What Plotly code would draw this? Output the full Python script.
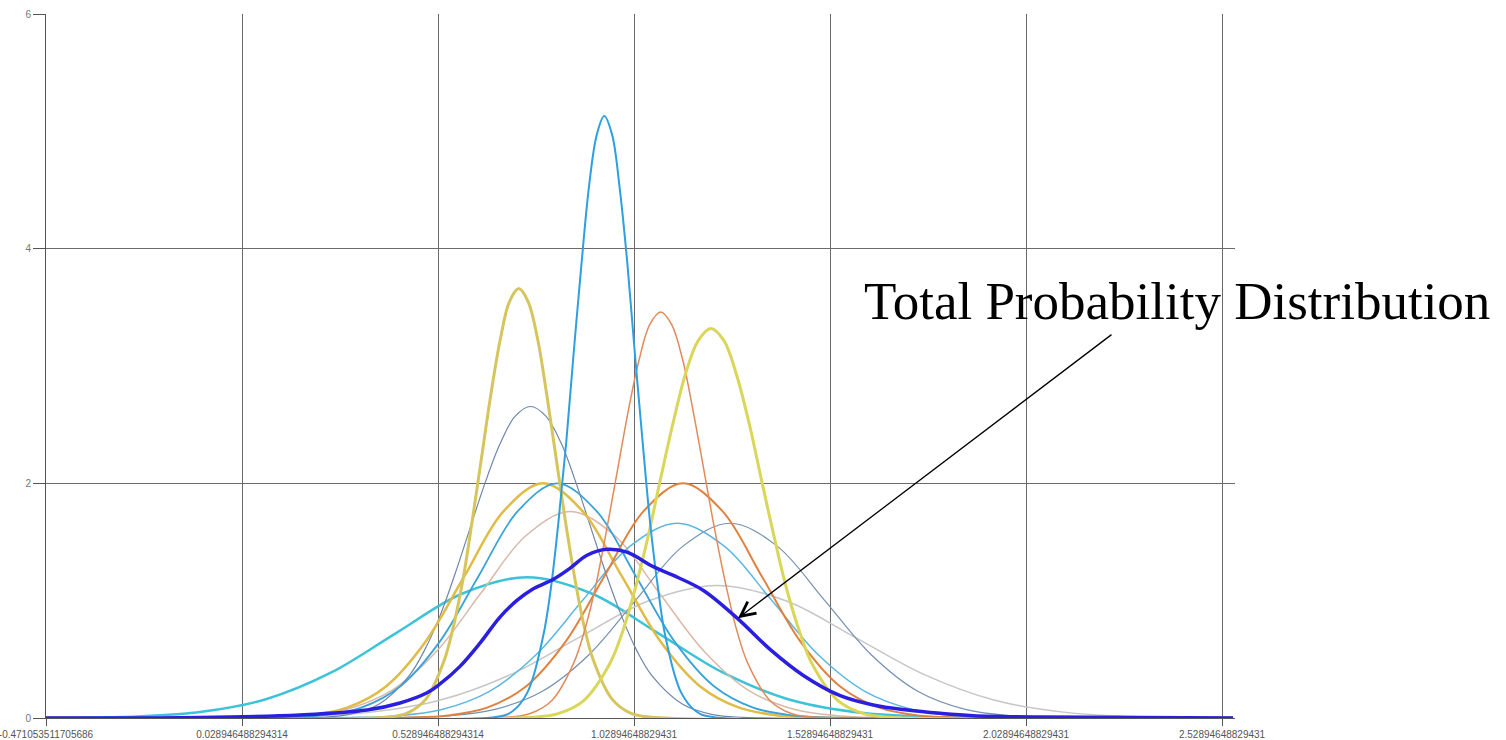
import plotly.graph_objects as go

# ---- data ----
X_START = -0.471053511705686
X_END = 2.557

tick_vals = [-0.471053511705686, 0.028946488294314, 0.528946488294314,
             1.02894648829431, 1.52894648829431, 2.02894648829431, 2.52894648829431]
tick_text = ["-0.471053511705686", "0.028946488294314", "0.528946488294314",
             "1.02894648829431", "1.52894648829431", "2.02894648829431", "2.52894648829431"]

# component curves (x, y)
a_x = [0.403, 0.450, 0.498, 0.545, 0.569, 0.593, 0.616, 0.640, 0.664, 0.688, 0.711, 0.735,
       0.759, 0.783, 0.806, 0.830, 0.854, 0.878, 0.901, 0.925, 0.973, 1.020, 1.068]
a_y = [0.008, 0.041, 0.161, 0.495, 0.792, 1.188, 1.676, 2.220, 2.763, 3.230, 3.547, 3.660,
       3.547, 3.230, 2.763, 2.220, 1.676, 1.188, 0.792, 0.495, 0.161, 0.041, 0.008]

b_x = [0.680, 0.719, 0.758, 0.797, 0.817, 0.836, 0.856, 0.875, 0.895, 0.914, 0.934, 0.953,
       0.973, 0.992, 1.012, 1.031, 1.051, 1.070, 1.090, 1.109, 1.148, 1.187, 1.226]
b_y = [0.011, 0.057, 0.225, 0.694, 1.110, 1.666, 2.349, 3.111, 3.872, 4.527, 4.972, 5.130,
       4.972, 4.527, 3.872, 3.111, 2.349, 1.666, 1.110, 0.694, 0.225, 0.057, 0.011]

c_x = [0.709, 0.764, 0.820, 0.875, 0.903, 0.931, 0.958, 0.986, 1.014, 1.042, 1.069, 1.097,
       1.125, 1.153, 1.180, 1.208, 1.236, 1.264, 1.291, 1.319, 1.375, 1.430, 1.486]
c_y = [0.008, 0.038, 0.152, 0.468, 0.748, 1.123, 1.584, 2.098, 2.612, 3.053, 3.353, 3.460,
       3.353, 3.053, 2.612, 2.098, 1.584, 1.123, 0.748, 0.468, 0.152, 0.038, 0.008]

d_x = [0.770, 0.835, 0.900, 0.965, 0.998, 1.030, 1.063, 1.095, 1.128, 1.160, 1.193, 1.225,
       1.258, 1.290, 1.323, 1.355, 1.388, 1.420, 1.453, 1.485, 1.550, 1.615, 1.680]
d_y = [0.007, 0.037, 0.146, 0.449, 0.718, 1.078, 1.520, 2.014, 2.506, 2.930, 3.218, 3.320,
       3.218, 2.930, 2.506, 2.014, 1.520, 1.078, 0.718, 0.449, 0.146, 0.037, 0.007]

e_x = [0.223, 0.300, 0.378, 0.455, 0.494, 0.533, 0.571, 0.610, 0.649, 0.688, 0.726, 0.765,
       0.804, 0.843, 0.881, 0.920, 0.959, 0.998, 1.036, 1.075, 1.153, 1.230, 1.308]
e_y = [0.006, 0.029, 0.117, 0.359, 0.574, 0.862, 1.215, 1.610, 2.004, 2.343, 2.573, 2.655,
       2.573, 2.343, 2.004, 1.610, 1.215, 0.862, 0.574, 0.359, 0.117, 0.029, 0.006]

f_x = [0.097, 0.197, 0.297, 0.397, 0.497, 0.597, 0.697, 0.797, 0.897, 0.997, 1.097, 1.197, 1.297, 1.397, 1.497]
f_y = [0.004, 0.022, 0.088, 0.271, 0.649, 1.213, 1.765, 2.000, 1.765, 1.213, 0.649, 0.271, 0.088, 0.022, 0.004]

g_x = [0.133, 0.233, 0.333, 0.433, 0.533, 0.633, 0.733, 0.833, 0.933, 1.033, 1.133, 1.233, 1.333, 1.433, 1.533]
g_y = [0.004, 0.022, 0.088, 0.271, 0.649, 1.213, 1.765, 2.000, 1.765, 1.213, 0.649, 0.271, 0.088, 0.022, 0.004]

h_x = [0.454, 0.554, 0.654, 0.754, 0.854, 0.954, 1.054, 1.154, 1.254, 1.354, 1.454, 1.554, 1.654, 1.754, 1.854]
h_y = [0.004, 0.022, 0.088, 0.271, 0.649, 1.213, 1.765, 2.000, 1.765, 1.213, 0.649, 0.271, 0.088, 0.022, 0.004]

i_x = [0.072, 0.185, 0.299, 0.412, 0.526, 0.639, 0.753, 0.866, 0.980, 1.093, 1.207, 1.320, 1.434, 1.547, 1.661]
i_y = [0.004, 0.020, 0.077, 0.238, 0.571, 1.067, 1.553, 1.760, 1.553, 1.067, 0.571, 0.238, 0.077, 0.020, 0.004]

j_x = [-0.406, -0.240, -0.074, 0.092, 0.258, 0.424, 0.590, 0.756, 0.922, 1.088, 1.254, 1.420, 1.586, 1.752, 1.918]
j_y = [0.003, 0.013, 0.053, 0.162, 0.390, 0.728, 1.059, 1.200, 1.059, 0.728, 0.390, 0.162, 0.053, 0.013, 0.003]

k_x = [0.299, 0.419, 0.539, 0.659, 0.779, 0.899, 1.019, 1.139, 1.259, 1.379, 1.499, 1.619, 1.739, 1.859, 1.979]
k_y = [0.004, 0.018, 0.073, 0.225, 0.539, 1.007, 1.465, 1.660, 1.465, 1.007, 0.539, 0.225, 0.073, 0.018, 0.004]

l_x = [0.434, 0.554, 0.674, 0.794, 0.914, 1.034, 1.154, 1.274, 1.394, 1.514, 1.634, 1.754, 1.874, 1.994, 2.114]
l_y = [0.004, 0.018, 0.073, 0.225, 0.539, 1.007, 1.465, 1.660, 1.465, 1.007, 0.539, 0.225, 0.073, 0.018, 0.004]

m_x = [0.006, 0.182, 0.359, 0.535, 0.712, 0.888, 1.065, 1.241, 1.418, 1.594, 1.771, 1.947, 2.124, 2.300, 2.477]
m_y = [0.002, 0.013, 0.050, 0.153, 0.367, 0.685, 0.997, 1.130, 0.997, 0.685, 0.367, 0.153, 0.050, 0.013, 0.002]

# total probability distribution
total_x = [-0.471, -0.078, 0.177, 0.348, 0.432, 0.501, 0.534, 0.585, 0.636, 0.687, 0.731, 0.771,
           0.822, 0.866, 0.909, 0.960, 1.011, 1.078, 1.128, 1.205, 1.292, 1.376, 1.460, 1.555,
           1.639, 1.726, 1.810, 1.894, 2.065, 2.557]
total_y = [0.000, 0.004, 0.026, 0.068, 0.128, 0.215, 0.290, 0.440, 0.638, 0.860, 1.004, 1.100,
           1.180, 1.277, 1.387, 1.438, 1.413, 1.290, 1.217, 1.089, 0.851, 0.585, 0.365, 0.190,
           0.111, 0.068, 0.040, 0.020, 0.008, 0.000]

components = [
    (j_x, j_y, "#3cc3d9", 2.5),
    (m_x, m_y, "#c6c6c6", 1.5),
    (i_x, i_y, "#d9b9a8", 1.5),
    (l_x, l_y, "#7590b0", 1.2),
    (k_x, k_y, "#5db7df", 1.5),
    (e_x, e_y, "#6f86ab", 1.2),
    (f_x, f_y, "#e0bb45", 2.5),
    (g_x, g_y, "#3aa3d6", 1.8),
    (h_x, h_y, "#e0823f", 2.0),
    (a_x, a_y, "#d6c55c", 3.0),
    (c_x, c_y, "#e28a5c", 1.5),
    (d_x, d_y, "#d9d65a", 3.0),
    (b_x, b_y, "#2e9fe0", 2.0),
]

fig = go.Figure()
for xs, ys, col, w in components:
    fig.add_trace(go.Scatter(
        x=[X_START] + xs + [X_END], y=[0] + ys + [0],
        mode="lines", line=dict(color=col, width=w, shape="spline"),
        hoverinfo="skip", showlegend=False))

fig.add_trace(go.Scatter(
    x=total_x, y=total_y, mode="lines",
    line=dict(color="#2a1fe0", width=3.5, shape="spline"),
    showlegend=False))

fig.update_layout(
    width=1506, height=740,
    margin=dict(l=46, r=271, t=14, b=22),
    paper_bgcolor="white", plot_bgcolor="white",
    showlegend=False,
    xaxis=dict(
        range=[X_START, 2.562], tickvals=tick_vals, ticktext=tick_text,
        showgrid=True, gridcolor="#6a6a6a", gridwidth=1,
        showline=True, linecolor="#555555", linewidth=1,
        ticks="outside", ticklen=7, tickcolor="#555555",
        tickfont=dict(family="Liberation Sans", size=10, color="#555555"),
        ticklabeloverflow="allow",
        zeroline=False, automargin=False),
    yaxis=dict(
        range=[0, 6], tickvals=[0, 2, 4, 6], ticktext=["0", "2", "4", "6"],
        showgrid=True, gridcolor="#6a6a6a", gridwidth=1,
        showline=True, linecolor="#555555", linewidth=1,
        ticks="outside", ticklen=12, tickcolor="#555555",
        tickfont=dict(family="Liberation Sans", size=10, color="#777777"),
        zeroline=False, automargin=False),
    annotations=[
        dict(x=2.414, y=3.557, xref="x", yref="y",
             text="Total Probability Distribution", showarrow=False,
             xanchor="center", yanchor="middle",
             font=dict(family="Liberation Serif", size=53, color="black")),
        dict(x=1.2942, y=0.851, xref="x", yref="y",
             ax=2.2508, ay=3.277, axref="x", ayref="y",
             text="", showarrow=True, arrowhead=5, arrowsize=2.2,
             arrowwidth=1.3, arrowcolor="black", standoff=0),
    ],
)

fig.write_html("out.html")
